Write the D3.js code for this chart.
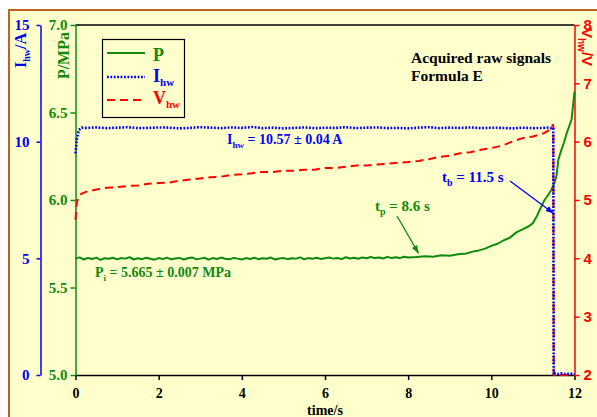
<!DOCTYPE html>
<html><head><meta charset="utf-8">
<script src="https://cdn.jsdelivr.net/npm/d3@7"></script>
<style>body{margin:0;background:#fff;overflow:hidden}</style>
</head><body>
<script>
// ---- data ----
const xTicks = [0, 2, 4, 6, 8, 10, 12];
const pTicks = [5.0, 5.5, 6.0, 6.5, 7.0];
const iTicks = [0, 5, 10, 15];
const vTicks = [2, 3, 4, 5, 6, 7, 8];

const pTime = [0,0.1,0.2,0.3,0.4,0.5,0.6,0.7,0.8,0.9,1,1.1,1.2,1.3,1.4,1.5,1.6,1.7,1.8,1.9,
  2,2.1,2.2,2.3,2.4,2.5,2.6,2.7,2.8,2.9,3,3.1,3.2,3.3,3.4,3.5,3.6,3.7,3.8,3.9,
  4,4.1,4.2,4.3,4.4,4.5,4.6,4.7,4.8,4.9,5,5.1,5.2,5.3,5.4,5.5,5.6,5.7,5.8,5.9,
  6,6.1,6.2,6.3,6.4,6.5,6.6,6.7,6.8,6.9,7,7.1,7.2,7.3,7.4,7.5,7.6,7.7,7.8,7.9,8,
  8.2,8.4,8.6,8.8,9.0,9.2,9.4,9.55,9.7,9.85,10.0,10.15,10.3,10.45,10.6,10.75,10.9,11.0,11.1,11.2,11.28,11.37,11.45,11.52,11.57,11.61,11.65,11.69,11.75,11.81,11.87,11.93,12];
const pValues = [5.666,5.672,5.660,5.669,5.663,5.671,5.658,5.667,5.664,5.670,
  5.661,5.668,5.665,5.673,5.660,5.667,5.662,5.670,5.664,5.659,
  5.668,5.663,5.671,5.661,5.666,5.669,5.660,5.667,5.672,5.662,
  5.665,5.670,5.659,5.668,5.663,5.671,5.664,5.661,5.669,5.665,
  5.660,5.668,5.663,5.670,5.662,5.667,5.664,5.671,5.660,5.666,
  5.669,5.662,5.667,5.665,5.672,5.661,5.668,5.664,5.670,5.663,
  5.667,5.671,5.665,5.669,5.662,5.673,5.666,5.670,5.664,5.672,
  5.667,5.674,5.668,5.671,5.666,5.675,5.669,5.673,5.668,5.676,5.672,
  5.674,5.679,5.676,5.684,5.682,5.690,5.694,5.705,5.712,5.722,5.738,5.750,5.770,5.785,5.815,5.832,5.850,5.868,5.910,5.962,6.000,6.030,6.060,6.100,6.140,6.230,6.260,6.290,6.330,6.380,6.420,6.460,6.620];

const iTime = [0,0.03,0.08,0.15,
  0.25,0.5,0.75,1,1.25,1.5,1.75,2,2.25,2.5,2.75,3,3.25,3.5,3.75,4,4.25,4.5,4.75,5,5.25,5.5,5.75,6,6.25,6.5,6.75,7,7.25,7.5,7.75,8,8.25,8.5,8.75,9,9.25,9.5,9.75,10,10.25,10.5,10.75,11,11.25,
  11.35,11.45,11.49,11.5,11.53,11.6,11.7,11.8,11.9,12];
const iValues = [9.50,10.10,10.50,10.60,
  10.59,10.61,10.58,10.60,10.62,10.58,10.59,10.61,10.60,10.57,10.59,10.62,10.60,10.58,10.61,10.59,10.63,10.58,10.60,10.57,10.59,10.61,10.58,10.60,10.59,10.62,10.58,10.60,10.61,10.58,10.59,10.57,10.60,10.62,10.58,10.60,10.59,10.61,10.58,10.60,10.59,10.57,10.60,10.58,10.59,
  10.60,10.58,10.59,0.00,0.08,0.04,0.07,0.03,0.06,0.04];

const vTime = [0,0.03,0.08,0.15,
  0.25,0.5,0.75,1,1.25,1.5,1.75,2,2.25,2.5,2.75,3,3.25,3.5,3.75,4,4.25,4.5,4.75,5,5.25,5.5,5.75,6,6.25,6.5,6.75,7,7.25,7.5,7.75,8,8.25,8.5,8.75,9,9.25,9.5,9.75,10,10.25,10.5,10.75,11,11.25,
  11.35,11.45,11.48,11.49,11.5,12];
const vValues = [4.66,4.95,5.07,5.11,
  5.14,5.18,5.21,5.22,5.24,5.25,5.28,5.29,5.30,5.33,5.35,5.37,5.39,5.40,5.43,5.44,5.46,5.48,5.48,5.50,5.50,5.52,5.52,5.55,5.55,5.57,5.59,5.59,5.61,5.62,5.64,5.65,5.67,5.70,5.74,5.76,5.80,5.82,5.86,5.89,5.93,6.00,6.06,6.09,6.14,
  6.18,6.22,6.30,6.25,2.0,2.0];

// ---- layout ----
const W = 597, H = 417;
const GREEN = '#0f8a0f', BLUE = '#0000ff', RED = '#ff0000';
const SERIF = "'Liberation Serif','Times New Roman',serif";
const SANS = "'Liberation Sans',Arial,sans-serif";

const svg = d3.select('body').append('svg').attr('width', W).attr('height', H);
svg.append('rect').attr('x', 9).attr('y', 10).attr('width', 700).attr('height', 500)
  .attr('fill', '#FFFFCC').attr('stroke', '#C0621C').attr('stroke-width', 2);

const x = d3.scaleLinear().domain([0, 12]).range([75.5, 574.5]);
const yP = d3.scaleLinear().domain([5, 7]).range([375, 25]);
const yI = d3.scaleLinear().domain([0, 15]).range([375, 25]);
const yV = d3.scaleLinear().domain([2, 8]).range([375, 25]);

function styleAxis(g, color, font, size) {
  g.selectAll('path.domain').attr('stroke', color).attr('stroke-width', 1.5);
  g.selectAll('.tick line').attr('stroke', color).attr('stroke-width', 1.5);
  g.selectAll('.tick text').attr('fill', color).attr('font-family', font)
    .attr('font-weight', 'bold').attr('font-size', size);
}

// top frame line
svg.append('line').attr('x1', x(0)).attr('x2', x(12)).attr('y1', 25).attr('y2', 25)
  .attr('stroke', '#000').attr('stroke-width', 1.5);

// x axis
const gx = svg.append('g').attr('transform', 'translate(0,375)')
  .call(d3.axisBottom(x).tickValues(xTicks).tickFormat(d3.format('d')).tickSize(5).tickSizeOuter(0).tickPadding(8));
styleAxis(gx, '#000', SERIF, 14);

// P axis
const gp = svg.append('g').attr('transform', `translate(${x(0)},0)`)
  .call(d3.axisLeft(yP).tickValues(pTicks).tickFormat(d3.format('.1f')).tickSize(5).tickSizeOuter(0).tickPadding(3));
styleAxis(gp, GREEN, SERIF, 15);

// I axis
const gi = svg.append('g').attr('transform', 'translate(40.5,0)')
  .call(d3.axisLeft(yI).tickValues(iTicks).tickFormat(d3.format('d')).tickSize(4).tickSizeOuter(0).tickPadding(7));
styleAxis(gi, BLUE, SERIF, 15);

// V axis
const gv = svg.append('g').attr('transform', `translate(${x(12)},0)`)
  .call(d3.axisRight(yV).tickValues(vTicks).tickFormat(d3.format('d')).tickSize(5).tickSizeOuter(0).tickPadding(4));
styleAxis(gv, RED, SANS, 15);

// ---- text helper with subscripts ----
function richText(parent, parts, attrs, size, subSize) {
  const t = parent.append('text');
  Object.entries(attrs).forEach(([k, v]) => t.attr(k, v));
  t.attr('font-size', size).attr('font-weight', 'bold');
  let lowered = false;
  parts.forEach(p => {
    const s = t.append('tspan').text(p.t);
    if (p.sub) { s.attr('font-size', subSize).attr('dy', 4); lowered = true; }
    else if (lowered) { s.attr('dy', -4); lowered = false; }
  });
  return t;
}

// axis titles
richText(svg, [{t:'I'},{t:'hw',sub:true},{t:'/A'}],
  {transform:'translate(26,33) rotate(-90)', 'text-anchor':'end', fill:BLUE, 'font-family':SERIF}, 16, 10);
richText(svg, [{t:'P/MPa'}],
  {transform:'translate(69,32) rotate(-90)', 'text-anchor':'end', fill:GREEN, 'font-family':SERIF}, 16, 10);
richText(svg, [{t:'V'},{t:'hw',sub:true},{t:'/V'}],
  {transform:'translate(582,28) rotate(90)', 'text-anchor':'start', fill:RED, 'font-family':SANS}, 15, 10);
richText(svg, [{t:'time/s'}],
  {x:x(6), y:415, 'text-anchor':'middle', fill:'#000', 'font-family':SERIF}, 14, 10);

// ---- series ----
const line = (ys) => d3.line().x(d => x(d[0])).y(d => ys(d[1]));
svg.append('path').datum(d3.zip(pTime, pValues)).attr('d', line(yP))
  .attr('fill', 'none').attr('stroke', GREEN).attr('stroke-width', 2).attr('stroke-linejoin', 'round');
svg.append('path').datum(d3.zip(vTime, vValues)).attr('d', line(yV))
  .attr('fill', 'none').attr('stroke', RED).attr('stroke-width', 2).attr('stroke-dasharray', '8,5');
svg.append('path').datum(d3.zip(iTime, iValues)).attr('d', line(yI))
  .attr('fill', 'none').attr('stroke', BLUE).attr('stroke-width', 2.6).attr('stroke-dasharray', '1.8,1.6');

// ---- legend ----
const lg = svg.append('g');
lg.append('rect').attr('x', 102.5).attr('y', 39.5).attr('width', 82).attr('height', 78)
  .attr('fill', 'none').attr('stroke', '#000').attr('stroke-width', 1.2);
const legendItems = [
  {name:[{t:'P'}], color:GREEN, dash:null, w:2, ly:53, ty:61},
  {name:[{t:'I'},{t:'hw',sub:true}], color:BLUE, dash:'1.8,1.6', w:2.6, ly:77, ty:82},
  {name:[{t:'V'},{t:'hw',sub:true}], color:RED, dash:'8,5', w:2, ly:100, ty:104}
];
legendItems.forEach(it => {
  const l = lg.append('line').attr('x1', 107).attr('x2', 145).attr('y1', it.ly).attr('y2', it.ly)
    .attr('stroke', it.color).attr('stroke-width', it.w);
  if (it.dash) l.attr('stroke-dasharray', it.dash);
  richText(lg, it.name, {x:153, y:it.ty, fill:it.color, 'font-family':SERIF}, 18, 11);
});

// ---- annotations ----
richText(svg, [{t:'Acquired raw signals'}], {x:411, y:63, fill:'#000', 'font-family':SERIF}, 15.5, 10);
richText(svg, [{t:'Formula E'}], {x:411, y:81, fill:'#000', 'font-family':SERIF}, 15.5, 10);
richText(svg, [{t:'I'},{t:'hw',sub:true},{t:' = 10.57 \u00b1 0.04 A'}], {x:227, y:144, fill:BLUE, 'font-family':SERIF}, 14, 9);
richText(svg, [{t:'P'},{t:'i',sub:true},{t:' = 5.665 \u00b1 0.007 MPa'}], {x:95, y:277, fill:GREEN, 'font-family':SERIF}, 14, 9);
richText(svg, [{t:'t'},{t:'p',sub:true},{t:' = 8.6 s'}], {x:375, y:211, fill:GREEN, 'font-family':SERIF}, 15, 10);
richText(svg, [{t:'t'},{t:'b',sub:true},{t:' = 11.5 s'}], {x:442, y:182, fill:BLUE, 'font-family':SERIF}, 15, 10);

function arrow(x1, y1, x2, y2, color) {
  svg.append('line').attr('x1', x1).attr('y1', y1).attr('x2', x2).attr('y2', y2)
    .attr('stroke', color).attr('stroke-width', 1.3);
  const a = Math.atan2(y2 - y1, x2 - x1), L = 8, Wd = 3;
  const bx = x2 - L * Math.cos(a), by = y2 - L * Math.sin(a);
  const px = -Math.sin(a) * Wd, py = Math.cos(a) * Wd;
  svg.append('path').attr('d', `M${x2},${y2}L${bx + px},${by + py}L${bx - px},${by - py}Z`).attr('fill', color);
}
arrow(397, 216, x(8.25), yP(5.695), GREEN);
arrow(510, 181, x(11.5), yV(4.77), BLUE);
</script>
</body></html>
